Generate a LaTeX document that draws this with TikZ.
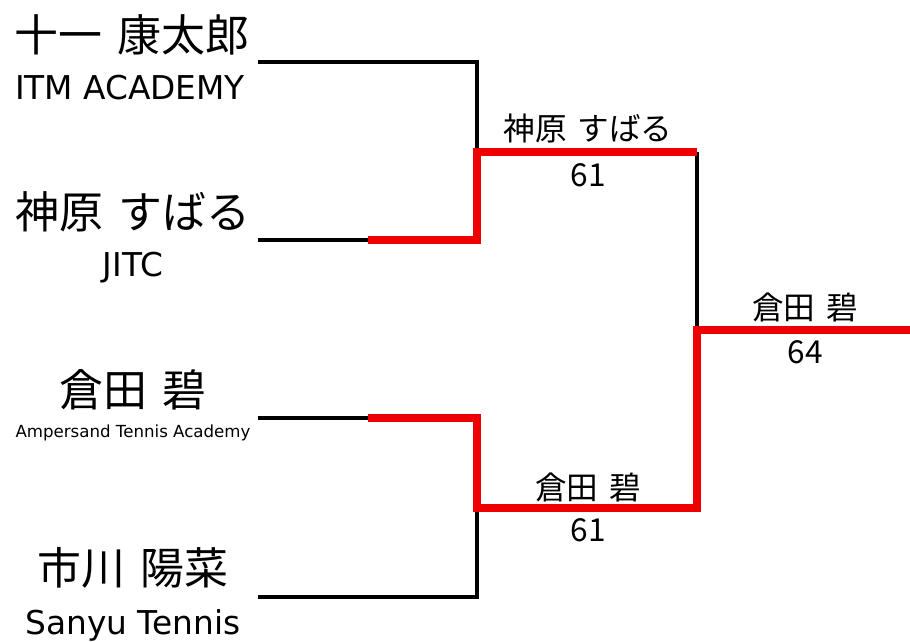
\documentclass[tikz,border=0pt]{standalone}
\usepackage{fontspec}
\setmainfont{Noto Sans CJK JP}
\newfontfamily\latinfont{DejaVu Sans}
\definecolor{rojo}{RGB}{238,0,0}
\tikzset{
  perdedor/.style={line width=2.6pt, black},
  ganador/.style={line width=6pt, rojo, line join=miter},
  jugador/.style={inner sep=0pt, font=\fontsize{37.5}{40}\selectfont},
  club/.style={inner sep=0pt, font=\latinfont\fontsize{28}{30}\selectfont},
  clubchico/.style={inner sep=0pt, font=\latinfont\fontsize{14.2}{16}\selectfont},
  marcador/.style={inner sep=0pt, font=\fontsize{27}{30}\selectfont},
}
\begin{document}
\begin{tikzpicture}[x=0.03cm, y=-0.03cm]
        \useasboundingbox (0,0) rectangle (910,642);

        % Jugadores
        \node[jugador] (j1) at (132,35) {十一\hspace{0.35em}康太郎};
        \node[club] (c1) at (130,88) {ITM ACADEMY};
        \node[jugador] (j2) at (133,212) {神原\hspace{0.35em}すばる};
        \node[club] (c2) at (133,268) {JITC};
        \node[jugador] (j3) at (133,390) {倉田\hspace{0.35em}碧};
        \node[clubchico] (c3) at (133,433) {Ampersand Tennis Academy};
        \node[jugador] (j4) at (133,568) {市川\hspace{0.35em}陽菜};
        \node[club] (c4) at (133,625) {Sanyu Tennis};

        % Puntos del cuadro
        \coordinate (l1) at (258,62);   \coordinate (e1) at (477,62);
        \coordinate (l2) at (258,240);  \coordinate (m2) at (368,240);  \coordinate (e2) at (477,240);
        \coordinate (l3) at (258,418);  \coordinate (m3) at (368,418);  \coordinate (e3) at (477,418);
        \coordinate (l4) at (258,597);  \coordinate (e4) at (477,597);
        \coordinate (s1) at (477,152);  \coordinate (s1f) at (697,152);
        \coordinate (s2) at (477,508);  \coordinate (s2f) at (697,508);
        \coordinate (f) at (697,330);   \coordinate (ff) at (910,330);

        % Lineas negras
        \draw[perdedor] (l1) -- (e1) -- (s1);
        \draw[perdedor] (l2) -- (m2);
        \draw[perdedor] (l3) -- (m3);
        \draw[perdedor] (l4) -- (e4) -- (s2);
        \draw[perdedor] (s1f) -- (f);

        % Lineas rojas (ganadores)
        \draw[ganador] (m2) -- (e2) -- (s1) -- (s1f);
        \draw[ganador] (m3) -- (e3) -- (s2) -- (s2f) -- (f) -- (ff);

        % Resultados
        \node[marcador] (g1) at (588,128) {神原\hspace{0.35em}すばる};
        \node[marcador] (r1) at (588,175) {61};
        \node[marcador] (g2) at (588,487) {倉田\hspace{0.35em}碧};
        \node[marcador] (r2) at (588,530) {61};
        \node[marcador] (g3) at (805,307) {倉田\hspace{0.35em}碧};
        \node[marcador] (r3) at (805,352) {64};
\end{tikzpicture}
\end{document}
